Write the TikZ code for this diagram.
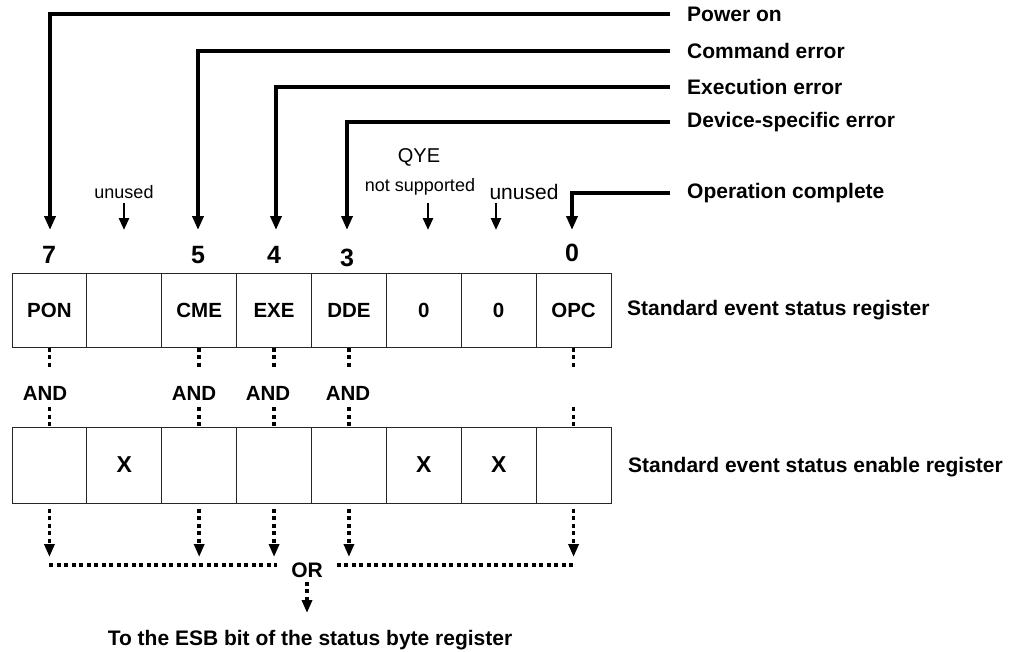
\documentclass[tikz,border=0pt]{standalone}
\usepackage{fontspec}
\setmainfont{Liberation Sans}
\usetikzlibrary{arrows.meta}
\begin{document}
\begin{tikzpicture}[x=1pt,y=-1pt,
  cell/.style={draw=black!85, line width=1pt, minimum width=74.875pt, inner sep=0pt, font=\fontsize{20.5}{24}\selectfont\bfseries},
  topcell/.style={cell, minimum height=74pt},
  botcell/.style={cell, minimum height=76pt, font=\fontsize{23}{26}\selectfont\bfseries},
  biglbl/.style={anchor=west, font=\fontsize{21}{25}\selectfont\bfseries, inner sep=0pt},
  smalllbl/.style={font=\fontsize{18}{22}\selectfont, inner sep=0pt},
  andlbl/.style={font=\fontsize{20.5}{24}\selectfont\bfseries, inner sep=0pt},
  bitnum/.style={font=\fontsize{25}{28}\selectfont\bfseries, inner sep=0pt},
  thickarr/.style={line width=4pt, -{Triangle[length=14pt,width=11pt]}},
  thinarr/.style={line width=2.6pt, -{Triangle[length=12pt,width=10pt]}},
  dotv/.style={line width=3.5pt, dash pattern=on 4pt off 3.5pt},
  dotarr/.style={dotv, -{Triangle[length=13pt,width=10pt]}},
]
\useasboundingbox (0,0) rectangle (1016,651);

% top register
\node[topcell] (s7) at (49.44,310) {PON};
\node[topcell] (s6) at (124.31,310) {};
\node[topcell] (s5) at (199.19,310) {CME};
\node[topcell] (s4) at (274.06,310) {EXE};
\node[topcell] (s3) at (348.94,310) {DDE};
\node[topcell] (s2) at (423.81,310) {0};
\node[topcell] (s1) at (498.69,310) {0};
\node[topcell] (s0) at (573.56,310) {OPC};
\node[biglbl] (ser) at (627,310) {Standard event status register};

% enable register
\node[botcell] (e7) at (49.44,465) {};
\node[botcell] (e6) at (124.31,465) {X};
\node[botcell] (e5) at (199.19,465) {};
\node[botcell] (e4) at (274.06,465) {};
\node[botcell] (e3) at (348.94,465) {};
\node[botcell] (e2) at (423.81,465) {X};
\node[botcell] (e1) at (498.69,465) {X};
\node[botcell] (e0) at (573.56,465) {};
\node[biglbl] (eer) at (628,467) {Standard event status enable register};

% right labels
\node[biglbl] (lpon) at (687,14) {Power on};
\node[biglbl] (lcme) at (687,51) {Command error};
\node[biglbl] (lexe) at (687,87) {Execution error};
\node[biglbl] (ldde) at (687,122) {Device-specific error};
\node[biglbl] (lopc) at (687,193) {Operation complete};

% bit numbers
\node[bitnum] (n7) at (49,255) {7};
\node[bitnum] (n5) at (198,255) {5};
\node[bitnum] (n4) at (274,255) {4};
\node[bitnum] (n3) at (347,258) {3};
\node[bitnum] (n0) at (572,253) {0};

\coordinate (t7) at (50,230);
\coordinate (t5) at (198,230);
\coordinate (t4) at (276,230);
\coordinate (t3) at (347,230);
\coordinate (t0) at (572,230);

\draw[thickarr] ([xshift=-17pt]lpon.west) -| (t7);
\draw[thickarr] ([xshift=-17pt]lcme.west) -| (t5);
\draw[thickarr] ([xshift=-17pt]lexe.west) -| (t4);
\draw[thickarr] ([xshift=-17pt]ldde.west) -| (t3);
\draw[thickarr] ([xshift=-17pt]lopc.west) -| (t0);

% small labels
\node[smalllbl] (u1) at (124,192) {unused};
\node[smalllbl, font=\fontsize{20}{24}\selectfont] (qye) at (419,157) {QYE};
\node[smalllbl] (ns) at (420,187) {not supported};
\node[smalllbl, font=\fontsize{21}{24}\selectfont] (u2) at (524,192) {unused};
\coordinate (tu1) at (124,230);
\coordinate (tq) at (428,230);
\coordinate (tu2) at (496,230);
\draw[thinarr, shorten <=4.5pt] (u1.south) -- (tu1);
\draw[thinarr, shorten <=7.5pt] (ns.south -| tq) -- (tq);
\draw[thinarr, shorten <=3pt] (u2.south -| tu2) -- (tu2);

% AND labels
\node[andlbl] (and7) at (45,393) {AND};
\node[andlbl] (and5) at (194,393) {AND};
\node[andlbl] (and4) at (268,393) {AND};
\node[andlbl] (and3) at (348,393) {AND};

\foreach \b in {7,5,4,3,0} {
  \draw[dotv] (s\b.south) -- (s\b.south |- 0,368);
  \draw[dotv] (e\b.north |- 0,407) -- (e\b.north);
  \draw[dotarr, shorten <=5pt] (e\b.south) -- (e\b.south |- 0,557);
}

% OR
\node[font=\fontsize{21}{25}\selectfont\bfseries, inner xsep=14pt, inner ysep=4pt] (orn) at (307,570) {OR};
\draw[dotv] (e7.south |- 0,565) -- (orn.west |- 0,565);
\draw[dotv] (orn.east |- 0,565) -- (e0.south |- 0,565);
\node[font=\fontsize{21}{25}\selectfont\bfseries, inner sep=0pt] (esb) at (310,640) {To the ESB bit of the status byte register};
\draw[dotarr] (orn.south) -- (orn.south |- 0,613);
\end{tikzpicture}
\end{document}
